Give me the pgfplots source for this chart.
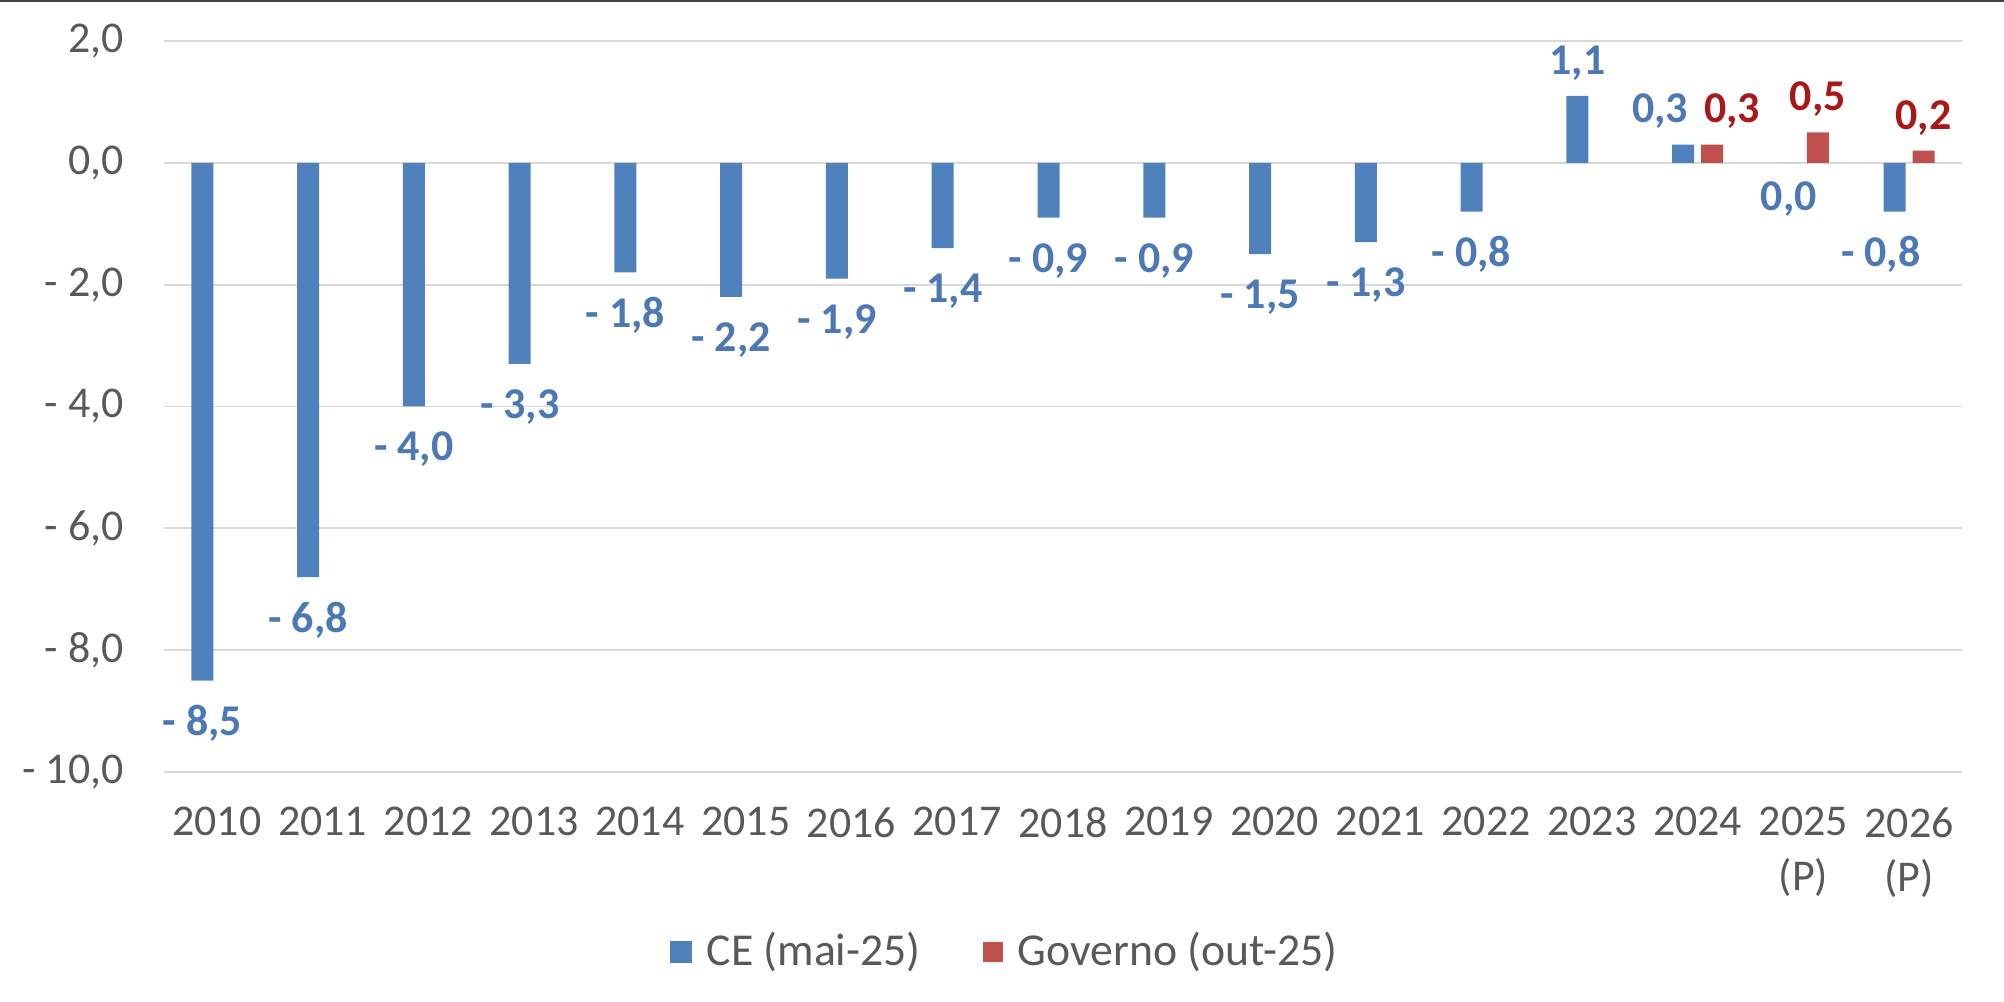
\documentclass[border=0pt]{standalone}
\usepackage{pgfplots}
\usepackage{pgfplotstable}
\pgfplotsset{compat=1.18}
\usepackage{fontspec}
\setmainfont{Carlito}

\definecolor{ceblue}{RGB}{79,129,189}
\definecolor{govred}{RGB}{192,80,77}
\definecolor{lblblue}{RGB}{76,120,182}
\definecolor{lblred}{RGB}{168,24,24}
\definecolor{tickgray}{RGB}{89,89,89}
\definecolor{gridgray}{RGB}{217,217,217}

% x = ano (0 = 2010), y = valor, lbl = rotulo, dx/dy = desvio do rotulo em mm
\pgfplotstableread{
x  y     lbl      dx    dy
0  -8.5  -~8,5    0     -4.3
1  -6.8  -~6,8    0     -4.3
2  -4.0  -~4,0    0     -4.3
3  -3.3  -~3,3    0     -4.3
4  -1.8  -~1,8    0     -4.3
5  -2.2  -~2,2    0     -4.3
6  -1.9  -~1,9    0     -4.3
7  -1.4  -~1,4    0     -4.3
8  -0.9  -~0,9    0     -4.3
9  -0.9  -~0,9    0     -4.3
10 -1.5  -~1,5    0     -4.3
11 -1.3  -~1,3    0     -4.3
12 -0.8  -~0,8    0     -4.3
13  1.1  1,1      0      3.3
14  0.3  0,3      -2.3   3.3
15  0.0  0,0      0     -3.6
16 -0.8  -~0,8    -1.4  -4.3
}\cedata

\pgfplotstableread{
x  y    lbl   dx   dy
14 0.3  0,3   2.0  3.3
15 0.5  0,5   0    3.3
16 0.2  0,2   0    3.3
}\govdata

\begin{document}
\begin{tikzpicture}
\useasboundingbox (-16.4mm,-23mm) rectangle (184mm,77.2mm);
\draw[line width=0.25mm, color=black!75] (-16.4mm,77.1mm) -- (184mm,77.1mm);
\begin{axis}[
    at={(0,0)}, anchor=south west,
    scale only axis,
    width=179.8mm, height=73.1mm,
    ybar=0.7mm,
    bar width=2.2mm,
    xmin=-0.5, xmax=16.5,
    ymin=-10, ymax=2,
    axis line style={draw=none},
    major tick length=0pt,
    ymajorgrids,
    grid style={gridgray, line width=0.55pt},
    ytick={-10,-8,-6,-4,-2,0,2},
    yticklabels={{-~10,0},{-~8,0},{-~6,0},{-~4,0},{-~2,0},{0,0},{2,0}},
    xtick={0,...,16},
    xticklabels={2010,2011,2012,2013,2014,2015,2016,2017,2018,2019,2020,2021,2022,2023,2024,{2025\\(P)},{2026\\(P)}},
    x tick label style={font=\fontsize{12.5}{15.6}\selectfont, text=tickgray, align=center, yshift=-2.3mm},
    y tick label style={font=\fontsize{12.5}{15.6}\selectfont, text=tickgray, xshift=-2.8mm},
    point meta=explicit symbolic,
    visualization depends on={\thisrow{dx}\as\mydx},
    visualization depends on={\thisrow{dy}\as\mydy},
    nodes near coords,
    every node near coord/.append style={font=\fontsize{12.5}{15}\selectfont\bfseries, anchor=center, xshift=\mydx mm, yshift=\mydy mm},
    legend columns=2,
    legend style={at={(axis description cs:0.469,-0.246)}, anchor=center, draw=none, fill=none,
        font=\fontsize{13}{15}\selectfont, text=tickgray,
        /tikz/every even column/.append style={column sep=5.5mm}},
    clip=false,
]
\addplot[fill=ceblue, draw=none,
    every node near coord/.append style={text=lblblue},
    legend image code/.code={\fill[ceblue] (0mm,-1.1mm) rectangle (2.2mm,1.1mm); \path (3.0mm,0mm);}]
    table[x=x, y=y, meta=lbl] {\cedata};
\addlegendentry{CE (mai-25)}
\addplot[fill=govred, draw=none,
    every node near coord/.append style={text=lblred},
    legend image code/.code={\fill[govred] (0mm,-1.0mm) rectangle (2.0mm,1.0mm); \path (2.8mm,0mm);}]
    table[x=x, y=y, meta=lbl] {\govdata};
\addlegendentry{Governo (out-25)}
\end{axis}
\end{tikzpicture}
\end{document}
